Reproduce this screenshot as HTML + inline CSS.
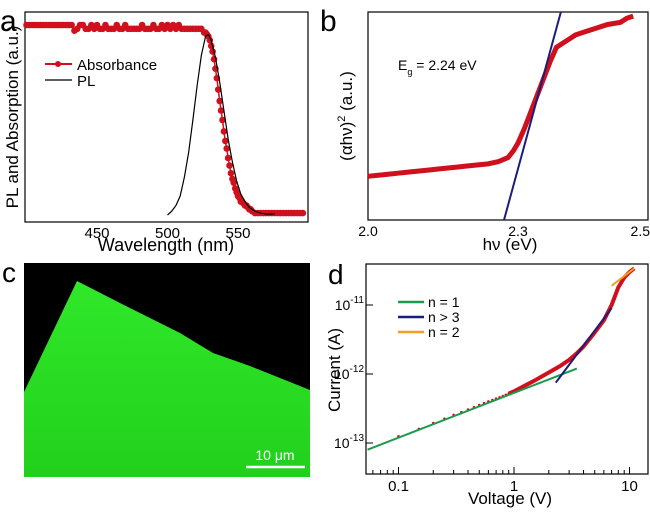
<!DOCTYPE html>
<html><head><meta charset="utf-8"><style>
body{margin:0;background:#fff;}
svg{display:block;font-family:"Liberation Sans",Arial,sans-serif;}
</style></head><body>
<svg id="fig" width="650" height="516" viewBox="0 0 650 516" xmlns="http://www.w3.org/2000/svg">
<rect width="650" height="516" fill="#fff"/>
<g>
<text x="0" y="31" font-size="30">a</text>
<rect x="25" y="12" width="283" height="210" fill="none" stroke="#000" stroke-width="1.2"/>
<g id="aMarks"></g>
<g id="aTicks" font-size="15" text-anchor="middle"></g>
<text x="166" y="251" font-size="18" text-anchor="middle">Wavelength (nm)</text>
<text transform="translate(18,117) rotate(-90)" font-size="17" text-anchor="middle">PL and Absorption (a.u.)</text>
<g>
<line x1="45" y1="64" x2="72" y2="64" stroke="#d0101c" stroke-width="2"/>
<circle cx="58" cy="64" r="3" fill="#d0101c"/>
<text x="77" y="70" font-size="15">Absorbance</text>
<line x1="45" y1="80" x2="72" y2="80" stroke="#000" stroke-width="1.2"/>
<text x="77" y="86" font-size="15">PL</text>
</g>
</g>
<g>
<text x="320" y="31" font-size="30">b</text>
<rect x="368" y="12" width="280" height="208" fill="none" stroke="#000" stroke-width="1.2"/>
<g id="bMarks"></g>
<g id="bTicks" font-size="14" text-anchor="middle"></g>
<text x="510" y="250" font-size="17" text-anchor="middle">hν (eV)</text>
<text transform="translate(352,116) rotate(-90)" font-size="17" text-anchor="middle">(αhν)<tspan dy="-7" font-size="11">2</tspan><tspan dy="7"> (a.u.)</tspan></text>
<text x="398" y="70" font-size="14">E<tspan dy="5" font-size="9">g</tspan><tspan dy="-5"> = 2.24 eV</tspan></text>
</g>
<g>
<text x="2" y="282" font-size="28">c</text>
<rect x="24" y="263" width="286" height="214" fill="#000"/>
<defs><linearGradient id="gg" x1="0" y1="0" x2="0" y2="1"><stop offset="0" stop-color="#30e82a"/><stop offset="1" stop-color="#22d01c"/></linearGradient></defs>
<polygon points="24,392 77,281 120,303 180,333 213,353 250,366 310,390 310,477 24,477" fill="url(#gg)"/>
<line x1="246" y1="467" x2="305" y2="467" stroke="#fff" stroke-width="2.5"/>
<text x="275" y="460" font-size="14" fill="#fff" text-anchor="middle">10 μm</text>
</g>
<g>
<text x="328" y="284" font-size="28">d</text>
<rect x="366" y="264" width="282" height="210" fill="none" stroke="#000" stroke-width="1.2"/>
<g id="dMarks"></g>
<g id="dTicks" font-size="15"></g>
<text x="510" y="504" font-size="17" text-anchor="middle">Voltage (V)</text>
<text transform="translate(340,370) rotate(-90)" font-size="17" text-anchor="middle">Current (A)</text>
<g>
<line x1="398" y1="302" x2="424" y2="302" stroke="#1a9a4a" stroke-width="2.5"/>
<text x="428" y="307" font-size="14">n = 1</text>
<line x1="398" y1="317" x2="424" y2="317" stroke="#1c1c7a" stroke-width="2.5"/>
<text x="428" y="322" font-size="14">n &gt; 3</text>
<line x1="398" y1="332" x2="424" y2="332" stroke="#f0a020" stroke-width="2.5"/>
<text x="428" y="337" font-size="14">n = 2</text>
</g>
</g>
</svg>
<script>
const NS="http://www.w3.org/2000/svg";
const absWl=[400,402,404,406,408,410,412,414,416,418,420,422,424,426,428,430,432,434,436,438,440,442,444,446,448,450,452,454,456,458,460,462,464,466,468,470,472,474,476,478,480,482,484,486,488,490,492,494,496,498,500,502,504,506,508,510,512,514,516,518,520,522,524,526,527,528,529,530,531,532,533,534,535,536,537,538,539,540,541,542,543,544,545,546,547,548,549,550,551,552,553,554,555,556,557,558,559,560,562,564,566,568,570,572,574,576,578,580,582,584,586,588,590,592,594,596];
const absVal=[1,1,1,1,1,1,1,1,1,1,1,1,1,1,1,1,1,0.97,0.98,1,1,0.98,0.98,1,0.98,1,0.98,0.98,1,0.98,0.98,0.98,1,0.98,0.98,1,0.98,0.98,0.98,0.98,0.98,1,0.98,0.98,0.98,1,0.98,0.98,1,0.98,1,0.98,1,0.98,1,0.98,0.98,0.98,0.98,0.98,0.98,0.98,0.98,0.96,0.96,0.95,0.94,0.92,0.89,0.86,0.82,0.77,0.72,0.66,0.6,0.55,0.5,0.44,0.39,0.35,0.3,0.26,0.22,0.19,0.17,0.14,0.12,0.1,0.09,0.07,0.07,0.06,0.05,0.05,0.04,0.03,0.03,0.02,0.01,0.01,0.01,0.01,0.01,0.01,0.01,0.01,0.01,0.01,0.01,0.01,0.01,0.01,0.01,0.01,0.01,0.01];
const plWl=[500,503,506,509,512,515,518,521,524,527,529,531,534,537,540,543,546,549,552,555,558,562,566,570,576];
const plVal=[0,0.02,0.05,0.1,0.2,0.33,0.5,0.68,0.84,0.94,0.95,0.92,0.83,0.7,0.55,0.4,0.28,0.18,0.11,0.07,0.04,0.02,0.01,0.005,0.005];
const aTickVals=[450,500,550];
const bE=[2.0,2.02,2.04,2.06,2.08,2.1,2.12,2.14,2.16,2.18,2.2,2.22,2.24,2.26,2.27,2.28,2.29,2.3,2.31,2.32,2.33,2.34,2.35,2.36,2.37,2.38,2.39,2.4,2.42,2.44,2.46,2.47,2.48];
const bVal=[21,21.5,22,22.5,23,23.5,24,24.5,25,25.5,26,26.5,27,28,29,30,33,37,44,52,60,68,76,83,85,87,89,90,92,94,95,97,98];
const bFit=[2.272,2.367];
const bTickVals=[2.0,2.3,2.5];
const dV=[0.1,0.15,0.2,0.25,0.3,0.35,0.4,0.45,0.5,0.55,0.6,0.65,0.7,0.75,0.8,0.85,0.9];
const dI=[1.25e-13,1.6e-13,1.95e-13,2.25e-13,2.55e-13,2.8e-13,3.05e-13,3.3e-13,3.55e-13,3.8e-13,4.0e-13,4.2e-13,4.4e-13,4.6e-13,4.8e-13,5.0e-13,5.2e-13];
const dVc=[0.9,1.0,1.2,1.5,2.0,2.5,3.0,3.5,4.0,5.0,6.0,7.0,8.0,9.0,10.0,11.0];
const dIc=[5.2e-13,5.6e-13,6.6e-13,8e-13,1.05e-12,1.3e-12,1.6e-12,2e-12,2.5e-12,4e-12,6e-12,1e-11,1.8e-11,2.5e-11,3e-11,3.4e-11];
const fitN1V=[0.054,3.5], fitN1I=[8e-14,1.2e-12];
const fitN3V=[2.3,7.0], fitN3I=[7.5e-13,9e-12];
const fitN2V=[7.0,11.0], fitN2I=[1.9e-11,3.4e-11];
const dXTicks=[0.1,1,10];
const dYTicks=[-11,-12,-13];

function el(tag,attrs,parent){const e=document.createElementNS(NS,tag);for(const k in attrs)e.setAttribute(k,attrs[k]);parent.appendChild(e);return e;}
const ax=w=>26.5+(w-400)*1.41, ay=v=>215-v*190;
const bx=e=>e<=2.3?368+(e-2.0)*500:518+(e-2.3)*640, by=v=>220-v*2.08;
const dx=v=>514+Math.log10(v)*115.5, dy=i=>374-(Math.log10(i)+12)*69;

const aM=document.getElementById('aMarks');
let p=el('polyline',{points:absWl.map((w,i)=>ax(w)+','+ay(absVal[i])).join(' '),fill:'none',stroke:'#d0101c','stroke-width':1.5},aM);


absWl.forEach((w,i)=>{const c=el('circle',{cx:ax(w),cy:ay(absVal[i]),r:3.3,fill:'#d0101c'},aM);

});
p=el('polyline',{points:plWl.map((w,i)=>ax(w)+','+ay(plVal[i])).join(' '),fill:'none',stroke:'#000','stroke-width':1.2},aM);


const aT=document.getElementById('aTicks');
aTickVals.forEach(t=>{const tx=el('text',{x:ax(t),y:238},aT);tx.textContent=t;

});

const bM=document.getElementById('bMarks');
p=el('polyline',{points:bE.map((e,i)=>bx(e)+','+by(bVal[i])).join(' '),fill:'none',stroke:'#d0101c','stroke-width':5},bM);


p=el('line',{x1:bx(bFit[0]),y1:by(0),x2:bx(bFit[1]),y2:by(100),stroke:'#1c1c7a','stroke-width':2},bM);


const bT=document.getElementById('bTicks');
bTickVals.forEach(t=>{const tx=el('text',{x:bx(t),y:236,'text-anchor':t===2.5?'end':'middle'},bT);tx.textContent=t.toFixed(1);
if(t===2.5)tx.setAttribute('x',650);

});

const dM=document.getElementById('dMarks');
dV.forEach((v,i)=>{const c=el('circle',{cx:dx(v),cy:dy(dI[i]),r:1.3,fill:'#d0101c'},dM);

});
p=el('polyline',{points:dVc.map((v,i)=>dx(v)+','+dy(dIc[i])).join(' '),fill:'none',stroke:'#d0101c','stroke-width':4,'stroke-linejoin':'round'},dM);


[[fitN1V,fitN1I,'#1a9a4a','fit-n1'],[fitN3V,fitN3I,'#1c1c7a','fit-n3'],[fitN2V,fitN2I,'#f0a020','fit-n2']].forEach(f=>{
const l=el('line',{x1:dx(f[0][0]),y1:dy(f[1][0]),x2:dx(f[0][1]),y2:dy(f[1][1]),stroke:f[2],'stroke-width':2},dM);

});
const dT=document.getElementById('dTicks');
dXTicks.forEach(t=>{const tx=el('text',{x:dx(t),y:491,'text-anchor':'middle'},dT);tx.textContent=t;


el('line',{x1:dx(t),y1:474,x2:dx(t),y2:467,stroke:'#000'},dT);});
[0.06,0.07,0.08,0.09,0.2,0.3,0.4,0.5,0.6,0.7,0.8,0.9,2,3,4,5,6,7,8,9].forEach(t=>{el('line',{x1:dx(t),y1:474,x2:dx(t),y2:470,stroke:'#000'},dT);});
dYTicks.forEach(t=>{const y=dy(Math.pow(10,t));const tx=el('text',{x:364,y:y+5,'text-anchor':'end','font-size':14},dT);
tx.innerHTML='10<tspan dy="-7" font-size="10">'+t+'</tspan>';


el('line',{x1:366,y1:y,x2:373,y2:y,stroke:'#000'},dT);});
</script>
</body></html>
